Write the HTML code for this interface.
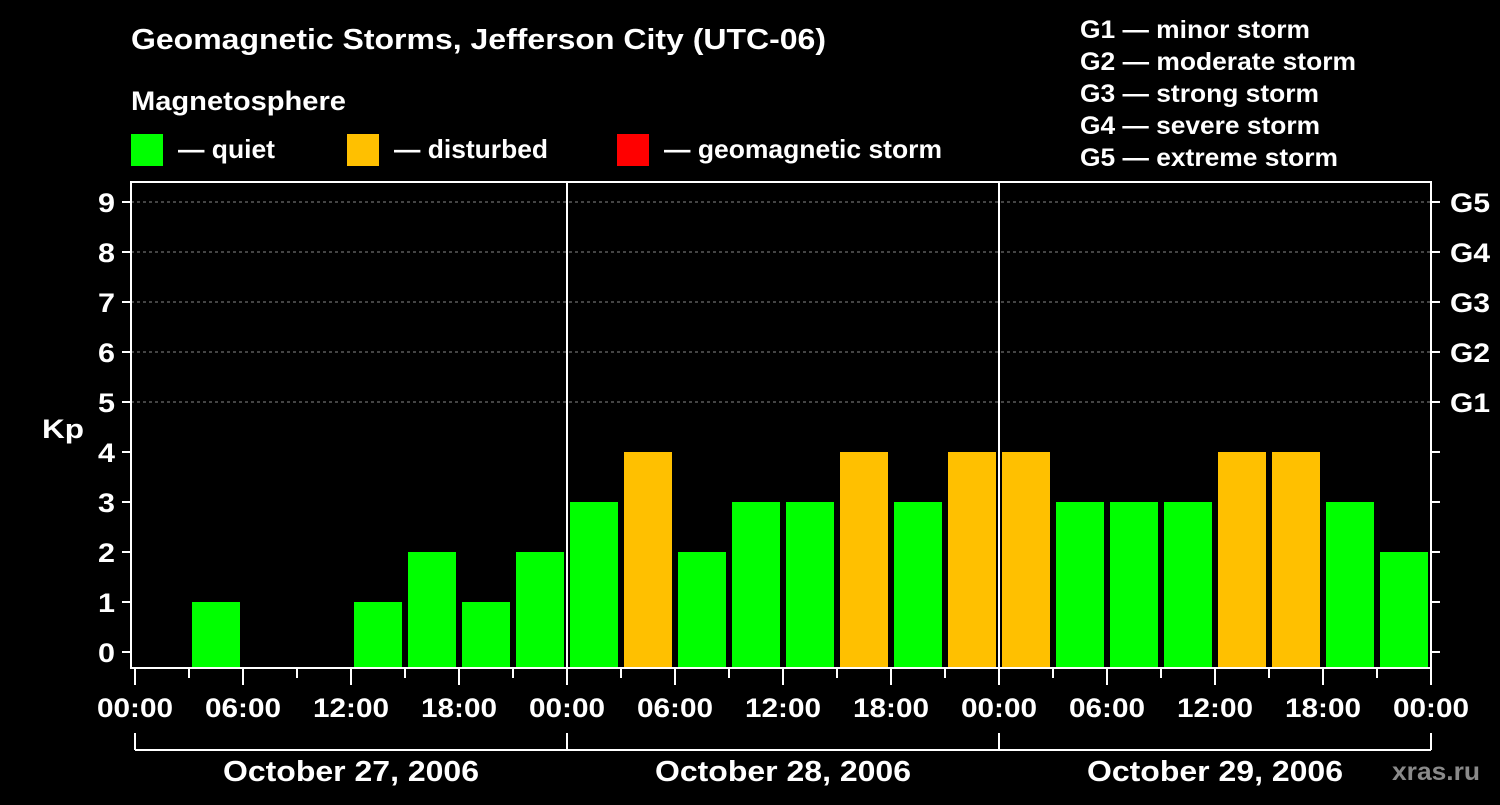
<!DOCTYPE html>
<html><head><meta charset="utf-8"><style>
html,body{margin:0;padding:0;background:#000;}
svg text{font-family:"Liberation Sans",Arial,sans-serif;font-weight:bold;fill:#fff;}
</style></head><body>
<svg id="chart" width="1500" height="800" xmlns="http://www.w3.org/2000/svg">
<rect width="1500" height="800" fill="#000"/>
<text x="131" y="49" font-size="29" textLength="695" lengthAdjust="spacingAndGlyphs">Geomagnetic Storms, Jefferson City (UTC-06)</text>
<text x="131" y="110" font-size="27" textLength="215" lengthAdjust="spacingAndGlyphs">Magnetosphere</text>
<g><rect x="131" y="134" width="32" height="32" fill="#00ff00"/><text x="178" y="158" font-size="26" textLength="97" lengthAdjust="spacingAndGlyphs">— quiet</text></g>
<g><rect x="347" y="134" width="32" height="32" fill="#ffc000"/><text x="394" y="158" font-size="26" textLength="154" lengthAdjust="spacingAndGlyphs">— disturbed</text></g>
<g><rect x="617" y="134" width="32" height="32" fill="#ff0000"/><text x="664" y="158" font-size="26" textLength="278" lengthAdjust="spacingAndGlyphs">— geomagnetic storm</text></g>
<g font-size="25">
<text x="1080" y="38" textLength="230" lengthAdjust="spacingAndGlyphs">G1 — minor storm</text>
<text x="1080" y="70" textLength="276" lengthAdjust="spacingAndGlyphs">G2 — moderate storm</text>
<text x="1080" y="102" textLength="239" lengthAdjust="spacingAndGlyphs">G3 — strong storm</text>
<text x="1080" y="134" textLength="240" lengthAdjust="spacingAndGlyphs">G4 — severe storm</text>
<text x="1080" y="166" textLength="258" lengthAdjust="spacingAndGlyphs">G5 — extreme storm</text>
</g>
<g id="plot"></g>
<text x="42" y="438" font-size="27" textLength="42" lengthAdjust="spacingAndGlyphs">Kp</text>
<text x="1392" y="780" font-size="25" textLength="88" lengthAdjust="spacingAndGlyphs" style="fill:#8a8a8a">xras.ru</text>
</svg>
<script>
const kpValues = [0,1,0,0,1,2,1,2, 3,4,2,3,3,4,3,4, 4,3,3,3,4,4,3,2];
const dayLabels = ["October 27, 2006","October 28, 2006","October 29, 2006"];
const hourLabels = ["00:00","06:00","12:00","18:00"];
const gLabels = ["G1","G2","G3","G4","G5"];
const kpTicks = [0,1,2,3,4,5,6,7,8,9];

const NS="http://www.w3.org/2000/svg";
const g=document.getElementById('plot');
const X0=135, SLOT=54, Y0=652, UNIT=50, PB=668;
const xs=i=>X0+i*SLOT;
const ys=v=>Y0-v*UNIT;
function mk(tag,attrs,parent){const e=document.createElementNS(NS,tag);for(const k in attrs)e.setAttribute(k,attrs[k]);(parent||g).appendChild(e);return e;}
for(let v=5;v<=9;v++){
  const l=mk('line',{x1:131,x2:1431,y1:ys(v),y2:ys(v),stroke:'#888','stroke-dasharray':'3,3','stroke-width':1});
  
  
}
kpValues.forEach((v,i)=>{
  if(v<=0)return;
  const col=v>=5?'#ff0000':(v>=4?'#ffc000':'#00ff00');
  const r=mk('rect',{x:xs(i)+3,y:ys(v),width:SLOT-6,height:PB-ys(v),fill:col});
  
  
});
const fr=mk('rect',{x:131,y:182,width:1300,height:486,fill:'none',stroke:'#fff','stroke-width':2});


for(let d=1;d<dayLabels.length;d++){
  const l=mk('line',{x1:xs(d*8),x2:xs(d*8),y1:182,y2:668,stroke:'#fff','stroke-width':2});
  
  
}
kpTicks.forEach(v=>{
  mk('line',{x1:122,x2:131,y1:ys(v),y2:ys(v),stroke:'#fff','stroke-width':2});
  mk('line',{x1:1431,x2:1440,y1:ys(v),y2:ys(v),stroke:'#fff','stroke-width':2});
  const t=mk('text',{x:115,y:ys(v)+10,'text-anchor':'end','font-size':27,textLength:17,lengthAdjust:'spacingAndGlyphs'});
  t.textContent=v;
  
  
});
gLabels.forEach((s,i)=>{
  const t=mk('text',{x:1450,y:ys(5+i)+10,'font-size':27,textLength:40,lengthAdjust:'spacingAndGlyphs'});
  t.textContent=s;
  
  
});
const nSlots=dayLabels.length*8;
for(let i=0;i<=nSlots;i++){
  const major=i%2===0;
  mk('line',{x1:xs(i),x2:xs(i),y1:668,y2:major?685:678,stroke:'#fff','stroke-width':2});
  if(major){
    const t=mk('text',{x:xs(i),y:717,'text-anchor':'middle','font-size':27,textLength:76,lengthAdjust:'spacingAndGlyphs'});
    t.textContent=hourLabels[(i/2)%4];
    
    
  }
}
mk('line',{x1:xs(0),x2:xs(nSlots),y1:750,y2:750,stroke:'#fff','stroke-width':2});
for(let d=0;d<=dayLabels.length;d++) mk('line',{x1:xs(d*8),x2:xs(d*8),y1:733,y2:750,stroke:'#fff','stroke-width':2});
dayLabels.forEach((s,d)=>{
  const t=mk('text',{x:xs(d*8+4),y:781,'text-anchor':'middle','font-size':29,textLength:256,lengthAdjust:'spacingAndGlyphs'});
  t.textContent=s;
  
  
});
</script>
</body></html>
